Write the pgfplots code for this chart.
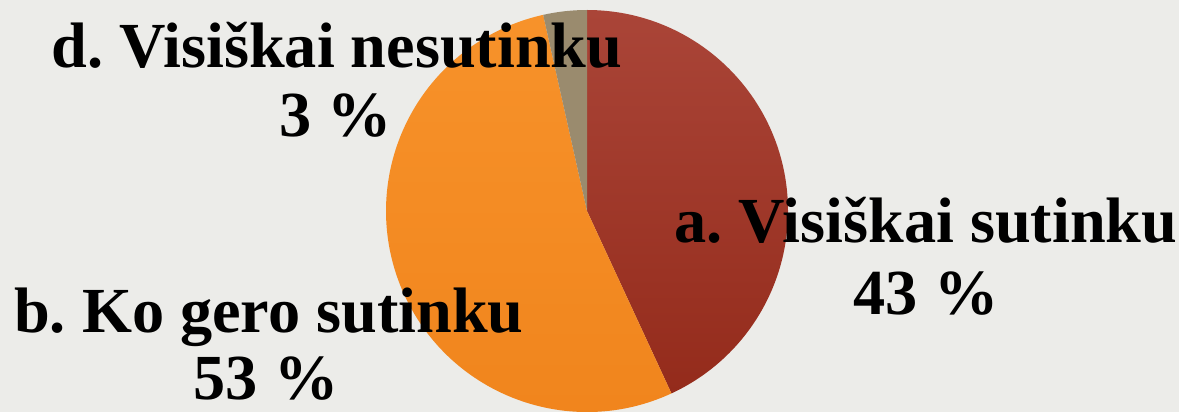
\documentclass[border=0pt]{standalone}
\usepackage{pgfplots}
\usepackage{pgfplotstable}
\pgfplotsset{compat=1.18}
\usepackage{fontspec}
\setmainfont{Liberation Serif}
\frenchspacing
\definecolor{bgc}{HTML}{ECECE9}
\definecolor{redtop}{HTML}{AA4538}
\definecolor{redbot}{HTML}{942B1B}
\definecolor{orgtop}{HTML}{F7922A}
\definecolor{orgbot}{HTML}{F0841C}
\definecolor{taupe}{HTML}{9A8B6E}
\pgfplotstableread{
label value
a 43.1
b 53.4
d 3.5
}\piedata
\begin{document}
\begin{tikzpicture}
\pgfplotstablegetelem{0}{value}\of\piedata \let\va\pgfplotsretval
\pgfplotstablegetelem{1}{value}\of\piedata \let\vb\pgfplotsretval
\pgfplotstablegetelem{2}{value}\of\piedata \let\vd\pgfplotsretval
\pgfmathsetmacro\aS{90}
\pgfmathsetmacro\aE{90-3.6*\va}
\pgfmathsetmacro\bE{\aE-3.6*\vb}
\pgfmathsetmacro\dE{\bE-3.6*\vd}
\begin{axis}[
  width=1179bp, height=412bp, scale only axis,
  xmin=0, xmax=1179, ymin=0, ymax=412,
  hide axis, clip=false, anchor=south west, at={(0,0)},
]
\fill[bgc] (axis cs:0,0) rectangle (axis cs:1179,412);
\shade[top color=redtop, bottom color=redbot] (axis cs:587,201) -- ++(\aS:201bp) arc[start angle=\aS, end angle=\aE, radius=201bp] -- cycle;
\shade[top color=orgtop, bottom color=orgbot] (axis cs:587,201) -- ++(\aE:201bp) arc[start angle=\aE, end angle=\bE, radius=201bp] -- cycle;
\fill[taupe] (axis cs:587,201) -- ++(\bE:201bp) arc[start angle=\bE, end angle=\dE, radius=201bp] -- cycle;
\begin{scope}[every node/.style={font=\fontsize{64.5}{67}\selectfont\bfseries, anchor=base, inner sep=0pt}]
\node at (axis cs:337,344) {d. Visiškai nesutinku};
\node at (axis cs:336,275) {3 \%};
\node at (axis cs:926,169) {a. Visiškai sutinku};
\node at (axis cs:926,97) {43 \%};
\node at (axis cs:269,79) {b. Ko gero sutinku};
\node at (axis cs:266,12) {53 \%};
\end{scope}
\end{axis}
\pgfresetboundingbox
\useasboundingbox (0,0) rectangle (1179bp,412bp);
\end{tikzpicture}
\end{document}
